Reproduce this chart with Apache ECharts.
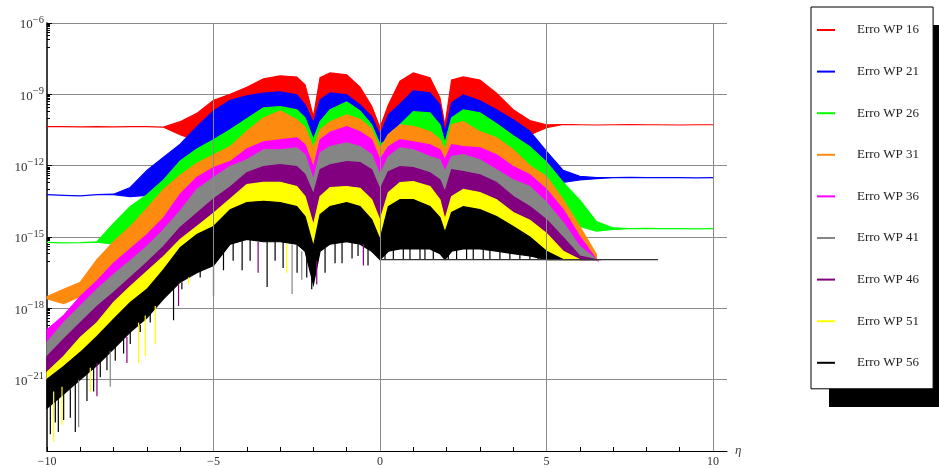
<!DOCTYPE html>
<html>
<head>
<meta charset="utf-8">
<script src="https://cdn.jsdelivr.net/npm/echarts@6/dist/echarts.min.js"></script>
<style>
  html, body { margin: 0; padding: 0; background: #fff; }
  #chart { width: 939px; height: 468px; }
</style>
</head>
<body>
<div id="chart"></div>
<script>
// Sample positions along η shared by every error curve
const eta = [-10, -9.5, -9, -8.5, -8, -7.5, -7, -6.5, -6, -5.5,
             -5, -4.5, -4, -3.5, -3, -2.5, -2.25, -2, -1.8, -1.5,
             -1, -0.6, -0.25, 0, 0.25, 0.6, 1, 1.5, 1.8, 1.95,
             2.15, 2.5, 3, 3.5, 4, 4.5, 5, 5.5, 6, 6.5,
             7, 7.5, 8, 8.35, 9, 9.5, 10];

// log10 of the error: upper edge of each curve's oscillation band
const wp16Top = [-10.36, -10.36, -10.37, -10.36, -10.37, -10.36, -10.36, -10.38, -10.15, -9.8,
                 -9.25, -9.0, -8.7, -8.35, -8.22, -8.27, -8.6, -9.95, -8.3, -8.1,
                 -8.18, -8.7, -9.5, -10.4, -9.45, -8.45, -8.1, -8.3, -9.15, -10.3,
                 -8.4, -8.27, -8.4, -8.95, -9.65, -10.1, -10.28, -10.27, -10.28, -10.29,
                 -10.28, -10.27, -10.28, -10.28, -10.29, -10.28, -10.28];
const wp21Top = [-13.22, -13.25, -13.27, -13.22, -13.2, -12.92, -12.2, -11.65, -11.1, -10.36,
                 -9.7, -9.25, -9.06, -8.95, -8.9, -9.02, -9.44, -10.2, -9.23, -8.94,
                 -9.02, -9.45, -9.94, -10.7, -9.86, -9.4, -8.85, -8.94, -9.44, -10.6,
                 -9.36, -9.02, -9.27, -9.65, -10.07, -10.55, -11.4, -12.2, -12.45, -12.5,
                 -12.5, -12.49, -12.5, -12.5, -12.5, -12.51, -12.5];
const wp26Top = [-15.23, -15.25, -15.24, -15.2, -14.43, -13.72, -13.22, -12.6, -11.8, -11.3,
                 -10.91, -10.49, -10.03, -9.57, -9.52, -9.65, -9.99, -10.9, -10.15, -9.65,
                 -9.32, -9.7, -10.28, -11.1, -10.9, -10.28, -9.73, -9.78, -10.28, -11.04,
                 -9.99, -9.65, -9.78, -10.24, -10.74, -11.2, -11.85, -12.7, -13.45, -14.35,
                 -14.62, -14.65, -14.64, -14.65, -14.65, -14.66, -14.65];
const wp31Top = [-17.5, -17.2, -16.9, -15.95, -15.2, -14.56, -13.8, -13.0, -12.4, -11.9,
                 -11.54, -11.2, -10.55, -10.0, -9.7, -10.07, -10.4, -11.25, -10.49, -10.15,
                 -9.86, -10.05, -10.45, -11.3, -10.7, -10.28, -10.35, -10.57, -10.9, -11.33,
                 -10.28, -10.15, -10.57, -10.83, -11.33, -12.0, -12.46, -13.43, -14.56, -15.73,
                 null, null, null, null, null, null, null];
const wp36Top = [-18.9, -18.3, -17.5, -16.85, -16.1, -15.5, -14.9, -14.2, -13.2, -12.5,
                 -12.08, -11.83, -11.3, -11.0, -10.91, -10.83, -11.12, -12.08, -10.91, -10.6,
                 -10.36, -10.57, -10.91, -11.75, -11.2, -10.91, -11.0, -11.12, -11.33, -11.75,
                 -11.12, -11.2, -11.25, -11.54, -12.04, -12.38, -13.0, -13.85, -14.98, -15.95,
                 null, null, null, null, null, null, null];
const wp41Top = [-19.43, -18.6, -17.9, -17.2, -16.57, -16.0, -15.4, -14.7, -13.9, -13.0,
                 -12.5, -12.04, -11.75, -11.33, -11.33, -11.25, -11.54, -12.6, -11.46, -11.2,
                 -11.04, -11.2, -11.54, -12.38, -11.62, -11.25, -11.33, -11.62, -11.75, -12.25,
                 -11.62, -11.54, -11.75, -12.17, -12.59, -12.88, -13.55, -14.39, -15.4, -15.95,
                 null, null, null, null, null, null, null];
const wp46Top = [-20.02, -19.3, -18.6, -17.92, -17.33, -16.7, -16.07, -15.4, -14.6, -14.0,
                 -13.4, -12.9, -12.3, -12.04, -11.96, -12.04, -12.38, -13.2, -12.17, -11.96,
                 -11.83, -11.87, -12.17, -13.0, -12.25, -12.04, -12.08, -12.3, -12.6, -13.1,
                 -12.17, -12.25, -12.38, -12.71, -13.3, -13.72, -14.27, -15.02, -15.8, -15.95,
                 null, null, null, null, null, null, null];
const wp51Top = [-20.69, -20.02, -19.22, -18.6, -17.75, -17.08, -16.45, -15.82, -15.1, -14.56,
                 -14.0, -13.4, -12.8, -12.7, -12.7, -12.88, -13.3, -14.5, -13.3, -12.92,
                 -12.88, -12.95, -13.43, -14.3, -13.13, -12.71, -12.67, -12.88, -13.43, -14.27,
                 -13.3, -13.0, -13.13, -13.43, -13.97, -14.3, -14.85, -15.6, -15.95, null,
                 null, null, null, null, null, null, null];
const wp56Top = [-20.98, -20.44, -19.85, -19.18, -18.46, -17.75, -17.2, -16.37, -15.45, -14.9,
                 -14.56, -13.85, -13.55, -13.5, -13.55, -13.72, -14.14, -15.4, -14.06, -13.72,
                 -13.55, -13.72, -14.27, -15.1, -13.72, -13.43, -13.43, -13.72, -14.18, -14.81,
                 -13.97, -13.72, -13.85, -14.14, -14.56, -15.0, -15.6, -15.95, -15.95, -15.95,
                 null, null, null, null, null, null, null];

// log10 of the lower edge of each band; null = the band runs on down under the next curve
const wp16Bottom = [-10.36, -10.36, -10.37, -10.36, -10.37, -10.36, -10.36, -10.38, -10.7, -10.95,
                    null, null, null, null, null, null, null, null, null, null,
                    null, null, null, null, null, null, null, null, null, null,
                    null, null, null, null, null, -10.7, -10.4, -10.27, -10.28, -10.29,
                    -10.28, -10.27, -10.28, -10.28, -10.29, -10.28, -10.28];
const wp21Bottom = [-13.22, -13.25, -13.27, -13.22, -13.22, -13.3, -13.25, null, null, null,
                    null, null, null, null, null, null, null, null, null, null,
                    null, null, null, null, null, null, null, null, null, null,
                    null, null, null, null, null, null, null, null, -12.6, -12.55,
                    -12.5, -12.49, -12.5, -12.5, -12.5, -12.51, -12.5];
const wp26Bottom = [-15.23, -15.25, -15.24, -15.22, -15.3, null, null, null, null, null,
                    null, null, null, null, null, null, null, null, null, null,
                    null, null, null, null, null, null, null, null, null, null,
                    null, null, null, null, null, null, null, null, null, -14.75,
                    -14.68, -14.65, -14.64, -14.65, -14.65, -14.66, -14.65];
const wp31Bottom = [-17.6, -17.8, null, null, null, null, null, null, null, null,
                    null, null, null, null, null, null, null, null, null, null,
                    null, null, null, null, null, null, null, null, null, null,
                    null, null, null, null, null, null, null, null, null, -15.95,
                    null, null, null, null, null, null, null];
const wp36Bottom = eta.map(() => null);
const wp41Bottom = eta.map(() => null);
const wp46Bottom = eta.map(() => null);
const wp51Bottom = eta.map(() => null);
const wp56Bottom = [-22.2, -21.6, -21.0, -20.4, -19.7, -19.0, -18.4, -17.6, -16.9, -16.5,
                    -16.2, -15.3, -15.1, -15.2, -15.2, -15.3, -15.6, -17.0, -15.6, -15.3,
                    -15.2, -15.3, -15.6, -15.95, -15.6, -15.5, -15.5, -15.5, -15.7, -15.95,
                    -15.6, -15.5, -15.5, -15.6, -15.7, -15.8, -15.95, -15.95, -15.95, -15.95,
                    null, null, null, null, null, null, null];

// Deep downward oscillation spikes: [η, log10 start, log10 tip]
const wp41Spikes = [[-9.05, -21.0, -23.0], [-8.1, -19.8, -21.3], [-2.64, -15.3, -17.4], [-2.35, -15.6, -16.8]];
const wp46Spikes = [[-8.5, -20.3, -21.7], [-7.6, -19.2, -20.3], [-6.05, -17.0, -17.9],
                    [-3.66, -15.2, -16.5], [-1.9, -16.0, -17.0], [-0.5, -15.3, -16.2]];
const wp51Spikes = [[-9.8, -21.5, -23.6], [-9.55, -21.3, -22.9], [-8.7, -20.5, -21.5],
                    [-7.25, -18.6, -20.3], [-7.05, -18.3, -20.0], [-6.75, -17.9, -19.5],
                    [-5.75, -16.7, -17.0], [-2.8, -15.3, -16.5]];
const wp56Spikes = [[-9.9, -22.1, -23.3], [-9.75, -21.9, -22.8], [-9.66, -21.8, -23.2], [-9.5, -21.6, -22.7],
                    [-9.3, -21.4, -22.6], [-9.15, -21.1, -23.2], [-8.8, -20.7, -21.9], [-8.6, -20.5, -21.5],
                    [-8.4, -20.2, -20.9], [-8.2, -20.0, -20.6], [-7.95, -19.6, -20.2], [-7.7, -19.3, -19.9],
                    [-7.5, -19.0, -19.5], [-7.2, -18.7, -19.0], [-6.9, -18.2, -18.6], [-6.2, -17.1, -18.5],
                    [-5.95, -16.9, -17.2], [-5.4, -16.4, -16.7], [-5.0, -16.2, -17.5], [-4.7, -15.5, -16.4],
                    [-4.41, -15.2, -16.0], [-4.14, -15.1, -16.4], [-3.9, -15.1, -16.0], [-3.39, -15.2, -17.1],
                    [-3.15, -15.2, -16.0], [-2.91, -15.2, -16.3], [-2.49, -15.3, -16.5], [-2.2, -15.6, -16.7],
                    [-2.05, -16.5, -17.2], [-1.65, -15.4, -16.5], [-1.35, -15.2, -16.1], [-1.14, -15.2, -16.1],
                    [-0.84, -15.2, -15.9], [-0.66, -15.3, -15.8], [-0.36, -15.5, -16.2],
                    [0.15, -15.5, -15.95], [0.4, -15.5, -15.95], [0.7, -15.5, -15.95], [0.9, -15.5, -15.95],
                    [1.2, -15.5, -15.95], [1.35, -15.5, -15.95], [1.6, -15.5, -15.95], [2.05, -15.6, -15.95],
                    [2.3, -15.5, -15.95], [2.6, -15.5, -15.95], [2.8, -15.5, -15.95], [3.1, -15.5, -15.95],
                    [3.3, -15.5, -15.95], [3.6, -15.6, -15.95], [3.9, -15.6, -15.95], [4.2, -15.7, -15.95],
                    [4.5, -15.8, -15.95], [4.75, -15.8, -15.95]];

// Round-off floor reached by the most accurate curves
const floorEta = [0, 8.35];
const floorLog = -15.95;

const curveNames = ['Erro WP 16', 'Erro WP 21', 'Erro WP 26', 'Erro WP 31', 'Erro WP 36',
                    'Erro WP 41', 'Erro WP 46', 'Erro WP 51', 'Erro WP 56'];
const curveTops = [wp16Top, wp21Top, wp26Top, wp31Top, wp36Top, wp41Top, wp46Top, wp51Top, wp56Top];
const curveBottoms = [wp16Bottom, wp21Bottom, wp26Bottom, wp31Bottom, wp36Bottom,
                      wp41Bottom, wp46Bottom, wp51Bottom, wp56Bottom];
const curveColors = ['#ff0000', '#0000ff', '#00ff00', '#ff8a10', '#ff00ff',
                     '#858585', '#82007f', '#ffff00', '#000000'];

const pow10 = (e) => Math.pow(10, e);

// One filled band per curve, from its upper edge to its lower edge
function bandSeries(k) {
  const top = curveTops[k], bottom = curveBottoms[k], next = curveTops[k + 1];
  const rows = [];
  eta.forEach((x, i) => {
    if (top[i] == null) return;
    let b = bottom[i];
    if (b == null) b = (next && next[i] != null) ? next[i] : top[i];
    rows.push([x, pow10(top[i]), pow10(b)]);
  });
  const color = curveColors[k];
  return {
    type: 'custom',
    name: curveNames[k],
    coordinateSystem: 'cartesian2d',
    itemStyle: { color: color },
    encode: { x: 0, y: [1, 2] },
    data: rows,
    z: 2,
    silent: true,
    renderItem(params, api) {
      if (params.dataIndex !== 0) return null;
      const upper = rows.map(r => api.coord([r[0], r[1]]));
      const lower = rows.map(r => api.coord([r[0], r[2]])).reverse();
      return {
        type: 'polygon',
        shape: { points: upper.concat(lower) },
        style: { fill: color, stroke: color, lineWidth: 1.2 }
      };
    }
  };
}

// Vertical strokes for the deep spikes of a curve
function spikeSeries(k, list) {
  const color = curveColors[k];
  return {
    type: 'custom',
    name: curveNames[k],
    coordinateSystem: 'cartesian2d',
    itemStyle: { color: color },
    encode: { x: 0, y: [1, 2] },
    data: list.map(s => [s[0], pow10(s[1]), pow10(s[2])]),
    z: 3,
    silent: true,
    renderItem(params, api) {
      const p1 = api.coord([api.value(0), api.value(1)]);
      const p2 = api.coord([api.value(0), api.value(2)]);
      return {
        type: 'line',
        shape: { x1: p1[0], y1: p1[1], x2: p2[0], y2: p2[1] },
        style: { stroke: color, lineWidth: 1.2 }
      };
    }
  };
}

const supMinus = (n) => '\u2212' + n;
const xTicks = [];
for (let v = -10; v <= 10; v++) xTicks.push(v);
const yMinorTicks = [];
[-6, -9, -12, -15, -18, -21].forEach(d => {
  for (let j = 1; j <= 9; j++) yMinorTicks.push(j * Math.pow(10, d - 1));
});

const series = [
  {
    type: 'line', name: 'grid', data: [], z: 1, silent: true,
    markLine: {
      silent: true, symbol: 'none', label: { show: false },
      lineStyle: { color: '#8a8a8a', width: 1, type: 'solid' },
      data: [{ xAxis: -5 }, { xAxis: 0 }, { xAxis: 5 }, { xAxis: 10 }]
    }
  }
];
for (let k = 0; k < 9; k++) series.push(bandSeries(k));
series.push(spikeSeries(5, wp41Spikes));
series.push(spikeSeries(6, wp46Spikes));
series.push(spikeSeries(7, wp51Spikes));
series.push(spikeSeries(8, wp56Spikes));
series.push({
  type: 'line', name: 'floor', z: 3, silent: true, symbol: 'none',
  data: floorEta.map(x => [x, pow10(floorLog)]),
  lineStyle: { color: '#333', width: 1.2 }
});

const chart = echarts.init(document.getElementById('chart'));
chart.setOption({
  animation: false,
  backgroundColor: '#fff',
  grid: { left: 47, top: 23, right: 212, bottom: 16 },
  // drop shadow behind the legend box
  graphic: [{
    type: 'rect', left: 829, top: 25, z: 3, silent: true,
    shape: { width: 121, height: 382 },
    style: { fill: '#000' }
  }],
  xAxis: {
    type: 'value', min: -10, max: 10.42, interval: 5,
    name: 'η', nameLocation: 'end', nameGap: 8,
    nameTextStyle: { fontFamily: 'Liberation Serif', fontStyle: 'italic', fontSize: 13, color: '#444' },
    axisLine: { onZero: false, lineStyle: { color: '#000', width: 1.2 } },
    axisTick: { inside: true, length: 4, customValues: xTicks, lineStyle: { color: '#000' } },
    axisLabel: {
      customValues: [-10, -5, 0, 5, 10], margin: 5,
      fontFamily: 'Liberation Serif', fontSize: 12, color: '#333',
      formatter: v => (v < 0 ? '\u2212' + (-v) : String(v))
    },
    splitLine: { show: false }
  },
  yAxis: [
    {
      type: 'log', logBase: 10, min: 1e-24, max: 1e-6, interval: 3,
      axisLine: { show: true, onZero: false, lineStyle: { color: '#000', width: 1.5 } },
      axisTick: { show: true, inside: true, length: 5, lineStyle: { color: '#000' } },
      axisLabel: {
        showMinLabel: false, margin: 3,
        formatter: v => '{b|10}{s|' + supMinus(-Math.round(Math.log10(v))) + '}',
        rich: {
          b: { fontFamily: 'Liberation Serif', fontSize: 13, color: '#333', verticalAlign: 'bottom', lineHeight: 17 },
          s: { fontFamily: 'Liberation Serif', fontSize: 10.5, color: '#333', verticalAlign: 'top', lineHeight: 17 }
        }
      },
      splitLine: { show: true, lineStyle: { color: '#8a8a8a', width: 1 } }
    },
    {
      type: 'log', logBase: 10, min: 1e-24, max: 1e-6, position: 'left',
      axisLine: { show: false, onZero: false }, axisLabel: { show: false }, splitLine: { show: false },
      axisTick: { show: true, inside: true, length: 3, customValues: yMinorTicks, lineStyle: { color: '#000' } }
    }
  ],
  legend: {
    orient: 'vertical', left: 811, top: 7, z: 4,
    padding: [16, 14, 19, 6],
    itemGap: 27.6, itemWidth: 18, itemHeight: 2, icon: 'rect',
    backgroundColor: '#fff', borderColor: '#000', borderWidth: 1,
    selectedMode: false,
    textStyle: { fontFamily: 'Liberation Serif', fontSize: 13, color: '#222', padding: [0, 0, 0, 17], height: 14, lineHeight: 14 },
    data: curveNames
  },
  series: series
});
</script>
</body>
</html>
